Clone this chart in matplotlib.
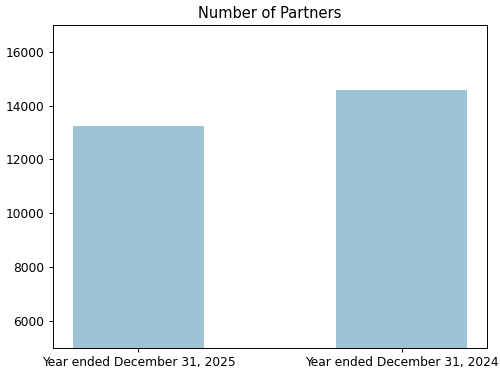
import matplotlib
matplotlib.use("Agg")
import matplotlib.pyplot as plt

periods = ["Year ended December 31, 2025", "Year ended December 31, 2024"]
partners = [13250, 14590]

fig, ax = plt.subplots(figsize=(500 / 88, 372 / 88), dpi=88)
ax.bar(periods, partners, width=0.5, color="#9ec3d5")
ax.set_ylim(5000, 17000)
ax.set_title("Number of Partners")
fig.subplots_adjust(left=0.106, right=0.974, top=0.933, bottom=0.065)
fig.savefig("out.png", dpi=88)
